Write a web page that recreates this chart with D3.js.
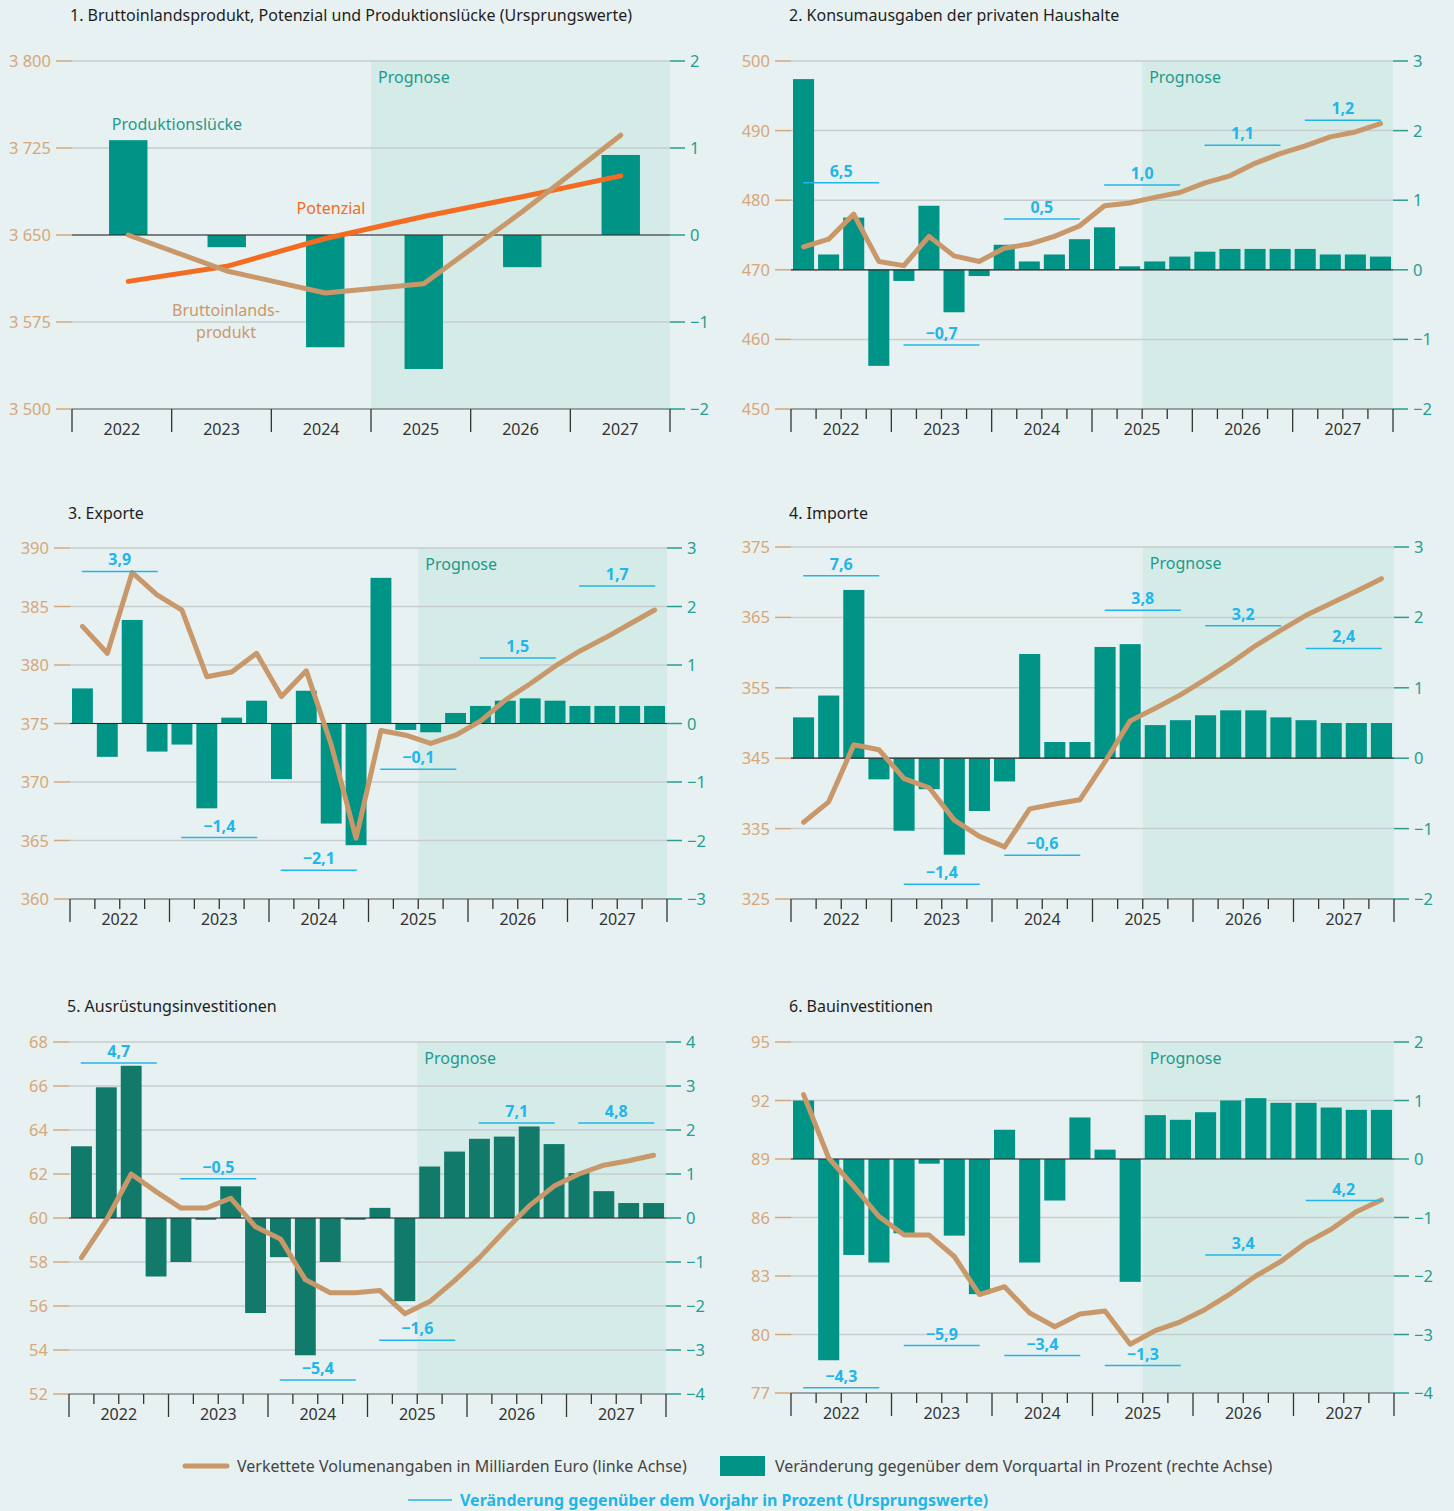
<!DOCTYPE html>
<html>
<head>
<meta charset="utf-8">
<script src="https://cdn.jsdelivr.net/npm/d3@7"></script>
<style>
  body { margin: 0; background: #e8f1f1; }
  svg { display: block; font-family: "Noto Sans", sans-serif; }
</style>
</head>
<body>
<svg id="chart" width="1454" height="1511"></svg>
<script>
const years = ["2022", "2023", "2024", "2025", "2026", "2027"];
const quarters = years.flatMap(y => ["Q1", "Q2", "Q3", "Q4"].map(q => y + q));

// 1. BIP, Potenzial, Produktionslücke (Jahreswerte)
const bipGap   = [1.09, -0.14, -1.29, -1.54, -0.37, 0.92];
const bipLevel = [3650, 3619, 3600, 3608, 3670, 3736];
const potLevel = [3610, 3623, 3647, 3666, 3683, 3701];

// 2. Konsum
const konsumQoq = [2.74, 0.22, 0.75, -1.38, -0.16, 0.92, -0.61, -0.09, 0.36, 0.12, 0.22, 0.44,
                   0.61, 0.05, 0.12, 0.19, 0.26, 0.30, 0.30, 0.30, 0.30, 0.22, 0.22, 0.19];
const konsumLevel = [473.3, 474.4, 478.0, 471.2, 470.6, 474.8, 472.0, 471.2, 473.1, 473.7, 474.8, 476.3,
                     479.2, 479.6, 480.4, 481.1, 482.5, 483.5, 485.3, 486.7, 487.8, 489.1, 489.8, 491.0];
const konsumYoy = ["6,5", "−0,7", "0,5", "1,0", "1,1", "1,2"];
const konsumYoyAt = [1.25, -1.08, 0.73, 1.22, 1.79, 2.15];

// 3. Exporte
const exportQoq = [0.60, -0.57, 1.77, -0.48, -0.36, -1.45, 0.10, 0.39, -0.95, 0.56, -1.71, -2.08,
                   2.49, -0.11, -0.15, 0.18, 0.30, 0.39, 0.43, 0.39, 0.30, 0.30, 0.30, 0.30];
const exportLevel = [383.3, 381.0, 387.9, 386.0, 384.7, 379.0, 379.4, 381.0, 377.3, 379.5, 373.2, 365.2,
                     374.4, 374.0, 373.3, 374.0, 375.2, 377.0, 378.4, 379.9, 381.2, 382.3, 383.5, 384.7];
const exportYoy = ["3,9", "−1,4", "−2,1", "−0,1", "1,5", "1,7"];
const exportYoyAt = [2.6, -1.95, -2.51, -0.78, 1.12, 2.35];

// 4. Importe
const importQoq = [0.58, 0.89, 2.39, -0.30, -1.03, -0.44, -1.37, -0.75, -0.33, 1.48, 0.23, 0.23,
                   1.58, 1.62, 0.47, 0.54, 0.61, 0.68, 0.68, 0.58, 0.54, 0.50, 0.50, 0.50];
const importLevel = [335.9, 338.8, 346.9, 346.2, 342.1, 340.8, 336.2, 333.9, 332.4, 337.8, 338.5, 339.1,
                     344.5, 350.3, 352.1, 354.0, 356.2, 358.5, 361.0, 363.2, 365.3, 367.0, 368.7, 370.5];
const importYoy = ["7,6", "−1,4", "−0,6", "3,8", "3,2", "2,4"];
const importYoyAt = [2.59, -1.79, -1.38, 2.10, 1.88, 1.56];

// 5. Ausrüstungsinvestitionen
const ausrQoq = [1.63, 2.97, 3.46, -1.33, -1.00, -0.04, 0.72, -2.16, -0.89, -3.12, -1.00, -0.04,
                 0.23, -1.89, 1.17, 1.51, 1.80, 1.85, 2.08, 1.68, 1.02, 0.61, 0.34, 0.34];
const ausrLevel = [58.2, 59.9, 62.0, 61.2, 60.45, 60.45, 60.9, 59.6, 59.05, 57.2, 56.6, 56.6,
                   56.7, 55.65, 56.2, 57.15, 58.2, 59.4, 60.55, 61.45, 62.0, 62.4, 62.6, 62.85];
const ausrYoy = ["4,7", "−0,5", "−5,4", "−1,6", "7,1", "4,8"];
const ausrYoyAt = [3.52, 0.89, -3.68, -2.78, 2.16, 2.16];

// 6. Bauinvestitionen
const bauQoq = [1.00, -3.44, -1.64, -1.77, -1.27, -0.08, -1.31, -2.31, 0.50, -1.77, -0.71, 0.71,
                0.16, -2.10, 0.75, 0.67, 0.80, 1.00, 1.04, 0.96, 0.96, 0.88, 0.84, 0.84];
const bauLevel = [92.3, 89.05, 87.6, 86.05, 85.1, 85.1, 84.0, 82.05, 82.45, 81.1, 80.4, 81.05,
                  81.2, 79.5, 80.2, 80.65, 81.3, 82.1, 83.0, 83.75, 84.7, 85.4, 86.3, 86.9];
const bauYoy = ["−4,3", "−5,9", "−3,4", "−1,3", "3,4", "4,2"];
const bauYoyAt = [-3.91, -3.19, -3.36, -3.53, -1.64, -0.71];

const col = {
  shade: "#d5ebe7", grid: "#c6cdcd", bar: "#009486", barDark: "#117a6b",
  tan: "#c8986b", orange: "#f36c21", leftLab: "#d6a77a", rightLab: "#269e93",
  ink: "#333", blue: "#22b5e9", prog: "#1d9a8d"
};

const svg = d3.select("#chart");
svg.append("rect").attr("width", 1454).attr("height", 1511).attr("fill", "#e8f1f1");

const fmtLeft = d3.formatLocale({ decimal: ",", thousands: "\u00a0", grouping: [3], currency: ["", ""] }).format(",d");
const fmtRight = d3.format("d");

function drawPanel(p) {
  const g = svg.append("g");
  const cats = p.annual ? years : quarters;
  const yL = d3.scaleLinear().domain([p.left[0], p.left[1]]).range([p.y1, p.y0]);
  const yR = d3.scaleLinear().domain([p.right[0], p.right[1]]).range([p.y1, p.y0]);
  // annual bars sit a little right of the year midpoints in the original
  const x = d3.scaleBand().domain(cats).range([p.annual ? p.x0 + 7 : p.x0, p.x1])
    .paddingInner(p.annual ? 0.61 : 0.16).paddingOuter(p.annual ? 0.305 : 0.08);
  const xb = d3.scaleLinear().domain([0, cats.length]).range([p.x0, p.x1]);
  const perYear = p.annual ? 1 : 4;

  // title
  g.append("text").attr("x", p.x0 - 2).attr("y", p.titleY).attr("font-size", 16)
    .attr("fill", "#1e1e1e").text(p.title);

  // forecast shading
  const ps = p.annual ? 3 : 14;
  g.append("rect").attr("x", xb(ps)).attr("y", p.y0).attr("width", p.x1 - xb(ps))
    .attr("height", p.y1 - p.y0).attr("fill", col.shade);
  g.append("text").attr("x", xb(ps) + 7).attr("y", p.y0 + 22).attr("font-size", 16)
    .attr("fill", col.prog).text("Prognose");

  // grid + ticks
  const lt = d3.range(p.left[0], p.left[1] + 1e-9, p.left[2]);
  const rt = d3.range(p.right[0], p.right[1] + 1e-9, 1);
  g.selectAll(".grid").data(lt.slice(1)).join("line")
    .attr("x1", p.x0).attr("x2", p.x1).attr("y1", d => yL(d)).attr("y2", d => yL(d))
    .attr("stroke", col.grid).attr("stroke-width", 1.5);
  g.selectAll(".lt").data(lt).join("line")
    .attr("x1", p.x0 - 16).attr("x2", p.x0).attr("y1", d => yL(d)).attr("y2", d => yL(d))
    .attr("stroke", col.leftLab).attr("stroke-width", 1.5);
  g.selectAll(".ltl").data(lt).join("text")
    .attr("x", p.x0 - 21).attr("y", d => yL(d) + 6).attr("text-anchor", "end")
    .attr("font-size", 16.5).attr("fill", col.leftLab).text(d => fmtLeft(d));
  g.selectAll(".rt").data(rt).join("line")
    .attr("x1", p.x1).attr("x2", p.x1 + 15).attr("y1", d => yR(d)).attr("y2", d => yR(d))
    .attr("stroke", col.rightLab).attr("stroke-width", 1.5);
  g.selectAll(".rtl").data(rt).join("text")
    .attr("x", p.x1 + 20).attr("y", d => yR(d) + 6)
    .attr("font-size", 16.5).attr("fill", col.rightLab).text(d => fmtRight(d));

  // bars
  g.selectAll(".bar").data(p.qoq).join("rect")
    .attr("x", (d, i) => x(cats[i])).attr("width", x.bandwidth())
    .attr("y", d => Math.min(yR(d), yR(0))).attr("height", d => Math.abs(yR(d) - yR(0)))
    .attr("fill", p.barColor || col.bar);

  // zero line + x axis
  g.append("line").attr("x1", p.x0).attr("x2", p.x1).attr("y1", yR(0)).attr("y2", yR(0))
    .attr("stroke", "#2a2a2a").attr("stroke-width", 1.2);
  g.append("line").attr("x1", p.x0).attr("x2", p.x1).attr("y1", p.y1).attr("y2", p.y1)
    .attr("stroke", "#555").attr("stroke-width", 1.2);
  g.selectAll(".xt").data(d3.range(cats.length + 1)).join("line")
    .attr("x1", d => xb(d)).attr("x2", d => xb(d)).attr("y1", p.y1)
    .attr("y2", d => p.y1 + (d % perYear === 0 ? 23 : 10))
    .attr("stroke", "#333").attr("stroke-width", 1.3);
  g.selectAll(".yl").data(years).join("text")
    .attr("x", (d, i) => xb(i * perYear + perYear / 2)).attr("y", p.y1 + 26)
    .attr("text-anchor", "middle").attr("font-size", 16).attr("fill", col.ink).text(d => d);

  // level lines
  const line = d3.line().x((d, i) => x(cats[i]) + x.bandwidth() / 2).y(d => yL(d));
  (p.lines || [{ data: p.level, color: col.tan }]).forEach(l => {
    g.append("path").attr("d", line(l.data)).attr("fill", "none").attr("stroke", l.color)
      .attr("stroke-width", 5).attr("stroke-linejoin", "round").attr("stroke-linecap", "round");
  });

  // annual rates
  if (p.yoy) {
    p.yoy.forEach((t, i) => {
      const cx = xb(i * 4 + 2), cy = yR(p.yoyAt[i]);
      g.append("line").attr("x1", cx - 38).attr("x2", cx + 38).attr("y1", cy).attr("y2", cy)
        .attr("stroke", col.blue).attr("stroke-width", 1.5);
      g.append("text").attr("x", cx).attr("y", cy - 6).attr("text-anchor", "middle")
        .attr("font-size", 16).attr("font-weight", "bold").attr("fill", col.blue).text(t);
    });
  }
  return g;
}

const p1 = drawPanel({
  title: "1. Bruttoinlandsprodukt, Potenzial und Produktionslücke (Ursprungswerte)", titleY: 21,
  annual: true, x0: 72, x1: 670, y0: 61, y1: 409,
  left: [3500, 3800, 75], right: [-2, 2], qoq: bipGap,
  lines: [{ data: potLevel, color: col.orange }, { data: bipLevel, color: col.tan }]
});
p1.append("text").attr("x", 177).attr("y", 130).attr("text-anchor", "middle").attr("font-size", 16)
  .attr("fill", col.prog).text("Produktionslücke");
p1.append("text").attr("x", 331).attr("y", 214).attr("text-anchor", "middle").attr("font-size", 16)
  .attr("fill", col.orange).text("Potenzial");
p1.append("text").attr("x", 226).attr("y", 316).attr("text-anchor", "middle").attr("font-size", 16)
  .attr("fill", col.tan).text("Bruttoinlands-");
p1.append("text").attr("x", 226).attr("y", 338).attr("text-anchor", "middle").attr("font-size", 16)
  .attr("fill", col.tan).text("produkt");

drawPanel({
  title: "2. Konsumausgaben der privaten Haushalte", titleY: 21,
  x0: 791, x1: 1393, y0: 61, y1: 409, left: [450, 500, 10], right: [-2, 3],
  qoq: konsumQoq, level: konsumLevel, yoy: konsumYoy, yoyAt: konsumYoyAt
});
drawPanel({
  title: "3. Exporte", titleY: 519,
  x0: 70, x1: 667, y0: 548, y1: 899, left: [360, 390, 5], right: [-3, 3],
  qoq: exportQoq, level: exportLevel, yoy: exportYoy, yoyAt: exportYoyAt
});
drawPanel({
  title: "4. Importe", titleY: 519,
  x0: 791, x1: 1394, y0: 547, y1: 899, left: [325, 375, 10], right: [-2, 3],
  qoq: importQoq, level: importLevel, yoy: importYoy, yoyAt: importYoyAt
});
drawPanel({
  title: "5. Ausrüstungsinvestitionen", titleY: 1012,
  x0: 69, x1: 666, y0: 1042, y1: 1394, left: [52, 68, 2], right: [-4, 4],
  qoq: ausrQoq, level: ausrLevel, yoy: ausrYoy, yoyAt: ausrYoyAt, barColor: col.barDark
});
drawPanel({
  title: "6. Bauinvestitionen", titleY: 1012,
  x0: 791, x1: 1394, y0: 1042, y1: 1393, left: [77, 95, 3], right: [-4, 2],
  qoq: bauQoq, level: bauLevel, yoy: bauYoy, yoyAt: bauYoyAt
});

// legend
const lg = svg.append("g");
lg.append("line").attr("x1", 185).attr("x2", 227).attr("y1", 1466).attr("y2", 1466)
  .attr("stroke", col.tan).attr("stroke-width", 5).attr("stroke-linecap", "round");
lg.append("text").attr("x", 237).attr("y", 1472).attr("font-size", 16).attr("fill", "#444")
  .text("Verkettete Volumenangaben in Milliarden Euro (linke Achse)");
lg.append("rect").attr("x", 720).attr("y", 1456).attr("width", 45).attr("height", 20).attr("fill", col.bar);
lg.append("text").attr("x", 775).attr("y", 1472).attr("font-size", 16).attr("fill", "#444")
  .text("Veränderung gegenüber dem Vorquartal in Prozent (rechte Achse)");
lg.append("line").attr("x1", 408).attr("x2", 452).attr("y1", 1500).attr("y2", 1500)
  .attr("stroke", col.blue).attr("stroke-width", 1.5);
lg.append("text").attr("x", 460).attr("y", 1506).attr("font-size", 16).attr("font-weight", "bold")
  .attr("fill", col.blue).text("Veränderung gegenüber dem Vorjahr in Prozent (Ursprungswerte)");
</script>
</body>
</html>
